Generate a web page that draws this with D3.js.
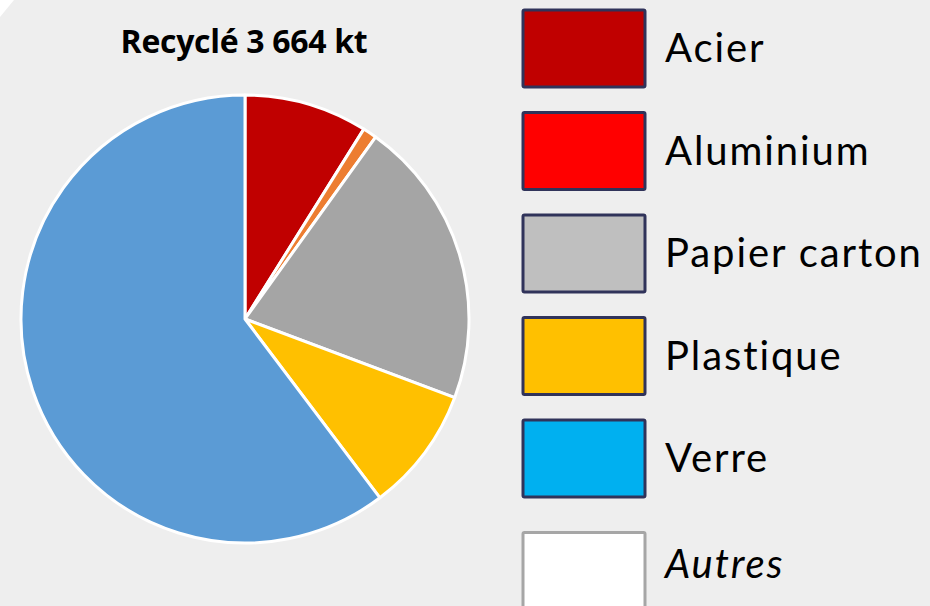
<!DOCTYPE html>
<html>
<head>
<meta charset="utf-8">
<script src="https://cdn.jsdelivr.net/npm/d3@7"></script>
<style>
  body { margin: 0; background: #eeeeee; }
  svg { display: block; }
</style>
</head>
<body>
<script>
const w = 930;
const h = 606;

// slices of the pie, in drawing order (kt)
const sliceNames = ["Acier", "Aluminium", "Papier carton", "Plastique", "Verre"];
const sliceValues = [326, 37, 762, 330, 2209];
const sliceColors = ["#C00000", "#ED7D31", "#A5A5A5", "#FFC000", "#5B9BD5"];

// legend entries
const legendNames = ["Acier", "Aluminium", "Papier carton", "Plastique", "Verre", "Autres"];
const legendColors = ["#C00000", "#FF0000", "#BFBFBF", "#FFC000", "#00B0F0", "#FFFFFF"];
const legendBorders = ["#30335A", "#30335A", "#30335A", "#30335A", "#30335A", "#A6A6A6"];

const title = "Recyclé 3 664 kt";

const svg = d3.select("body")
  .append("svg")
  .attr("width", w)
  .attr("height", h);

svg.append("rect")
  .attr("width", w)
  .attr("height", h)
  .attr("fill", "#EEEEEE");

// little cut corner top-left
svg.append("path")
  .attr("d", "M0,0 L14,0 L0,17 Z")
  .attr("fill", "#FFFFFF");

svg.append("text")
  .text(title)
  .attr("x", 244)
  .attr("y", 53)
  .attr("text-anchor", "middle")
  .attr("font-family", "'Open Sans', sans-serif")
  .attr("font-weight", "bold")
  .attr("font-size", 32)
  .attr("letter-spacing", -0.3)
  .attr("fill", "#000");

const cx = 245, cy = 319, r = 224;

const pie = d3.pie().sort(null).value(d => d.value);
const arc = d3.arc().innerRadius(0).outerRadius(r);

const data = sliceNames.map((n, i) => ({ name: n, value: sliceValues[i], color: sliceColors[i] }));

const chart = svg.append("g")
  .attr("transform", "translate(" + cx + "," + cy + ")");

chart.selectAll("path")
  .data(pie(data))
  .enter()
  .append("path")
  .attr("d", arc)
  .attr("fill", d => d.data.color)
  .attr("stroke", "#FFFFFF")
  .attr("stroke-width", 3)
  .attr("stroke-linejoin", "round");

// legend
const ly = d3.scaleBand()
  .domain(legendNames)
  .range([10, 10 + 102.5 * legendNames.length]);

const legend = svg.append("g")
  .selectAll("g")
  .data(legendNames)
  .enter()
  .append("g")
  .attr("transform", d => "translate(523," + (ly(d) + (d === "Autres" ? 10 : 0)) + ")");

legend.append("rect")
  .attr("x", 0)
  .attr("y", 0)
  .attr("width", 122)
  .attr("height", 77)
  .attr("rx", 1.5)
  .attr("fill", (d, i) => legendColors[i])
  .attr("stroke", (d, i) => legendBorders[i])
  .attr("stroke-width", 3);

legend.append("text")
  .text(d => d)
  .attr("x", 142)
  .attr("y", d => d === "Autres" ? 45 : 52)
  .attr("font-family", "Lato, sans-serif")
  .attr("font-size", 40)
  .attr("letter-spacing", 1.9)
  .attr("font-style", d => d === "Autres" ? "italic" : "normal")
  .attr("fill", "#000");
</script>
</body>
</html>
